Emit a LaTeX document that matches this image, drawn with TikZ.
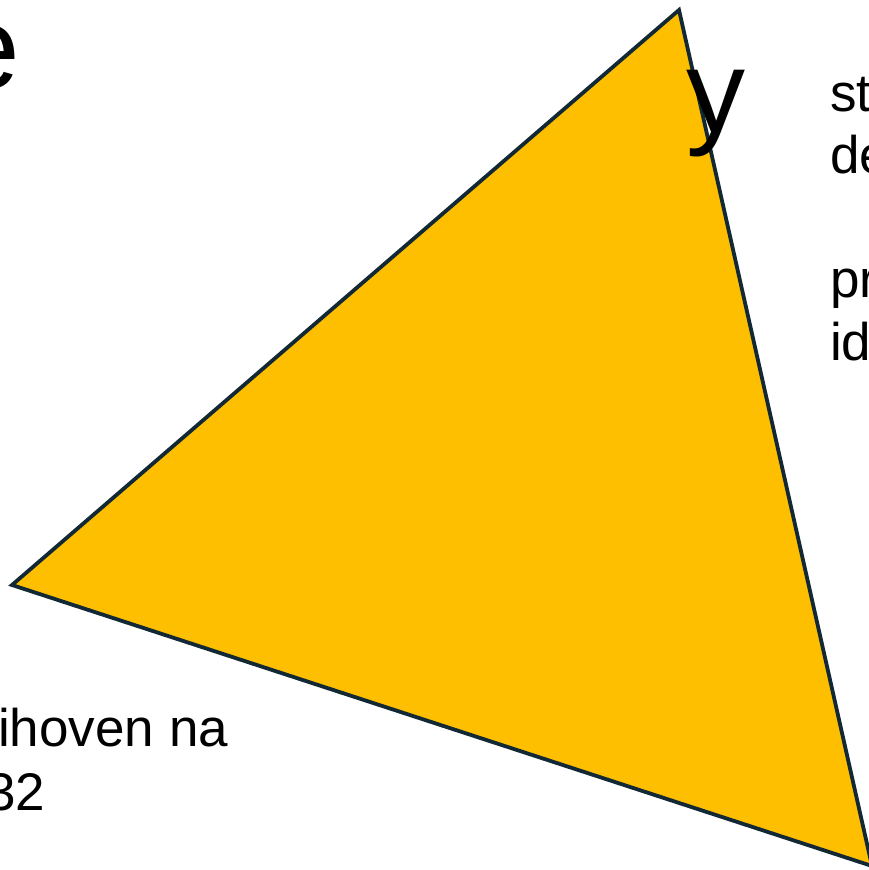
\documentclass[tikz,border=0pt]{standalone}
\usepackage{fontspec}
\setmainfont{Liberation Sans}
\usetikzlibrary{math}
\definecolor{mygold}{RGB}{253,191,0}
\definecolor{mynavy}{RGB}{18,40,52}

\tikzset{
  slidetext/.style={anchor=base west,inner sep=0pt,text=black,
    font=\fontsize{53}{63}\selectfont},
  bigtext/.style={anchor=base west,inner sep=0pt,text=black,
    font=\fontsize{118}{124}\selectfont}
}

\begin{document}
\begin{tikzpicture}[x=1pt,y=-1pt]
\tikzmath{
\W=869;
\H=870;
}
\useasboundingbox (0,0) rectangle (\W,\H);
\clip (0,0) rectangle (\W,\H);

% triangle
\coordinate (top) at (679,10);
\coordinate (left) at (12,585);
\coordinate (right) at (872,866);
\filldraw[fill=mygold,draw=mynavy,line width=3.8pt,line join=miter]
  (top) -- (left) -- (right) -- cycle;

% text cut off at the edges
\node[bigtext] (bige) at (-46,88) {e};
\node[bigtext] (bigy) at (686,132) {y};

\node[slidetext] (st) at (830,111) {st};
\node[slidetext] (de) at (830,173) {de};
\node[slidetext] (pr) at (830,297) {pr};
\node[slidetext] (id) at (830,360) {id};

\node[slidetext] (hoven) at (-2,746) {ihoven na};
\node[slidetext] (year) at (-14,810) {32};
\end{tikzpicture}
\end{document}
